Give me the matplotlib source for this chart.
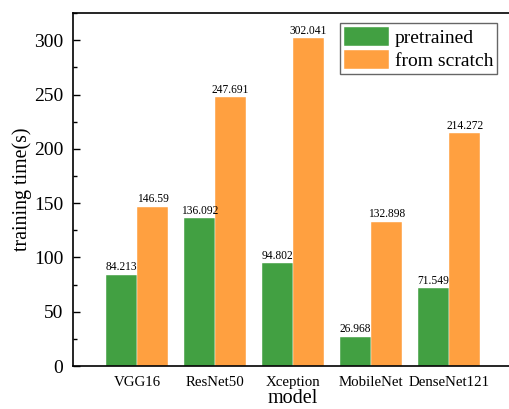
import matplotlib.pyplot as plt
import numpy as np
from matplotlib.ticker import MultipleLocator

plt.rcParams['font.family'] = ['Liberation Serif', 'DejaVu Serif']

models = ['VGG16', 'ResNet50', 'Xception', 'MobileNet', 'DenseNet121']
pretrained = [84.213, 136.092, 94.802, 26.968, 71.549]
scratch = [146.59, 247.691, 302.041, 132.898, 214.272]
pretrained_labels = ['84.213', '136.092', '94.802', '26.968', '71.549']
scratch_labels = ['146.59', '247.691', '302.041', '132.898', '214.272']

fig = plt.figure(figsize=(5.1, 4.09), dpi=100)
ax = fig.add_axes([0.143, 0.105, 0.863, 0.863])

x = np.arange(len(models))
w = 0.4
b1 = ax.bar(x - w / 2, pretrained, w, color='#42a042', edgecolor='white', linewidth=0.3, label='pretrained')
b2 = ax.bar(x + w / 2, scratch, w, color='#ffa040', edgecolor='white', linewidth=0.3, label='from scratch')

ax.bar_label(b1, labels=pretrained_labels, padding=1, fontsize=8.3)
ax.bar_label(b2, labels=scratch_labels, padding=1, fontsize=8.3)

ax.set_xlim(-0.82, 4.82)
ax.set_ylim(0, 325)
ax.set_xticks(x)
ax.set_xticklabels(models, fontsize=10.7)
ax.yaxis.set_major_locator(MultipleLocator(50))
ax.yaxis.set_minor_locator(MultipleLocator(25))
ax.tick_params(axis='y', direction='in', labelsize=14, length=5, width=1, pad=7)
ax.tick_params(axis='y', which='minor', direction='in', length=3, width=1)
ax.tick_params(axis='x', length=0, pad=7)
ax.spines['right'].set_visible(False)
for s in ax.spines.values():
    s.set_linewidth(1.2)

ax.set_xlabel('model', fontsize=14.5, labelpad=0)
ax.set_ylabel('training time(s)', fontsize=14.3, labelpad=1)

leg = ax.legend(loc='upper right', bbox_to_anchor=(0.9636, 0.9717), fontsize=14, fancybox=False,
                edgecolor='#666666', framealpha=1, handlelength=2.3, handleheight=1.15,
                borderpad=0.2, labelspacing=0.12, handletextpad=0.3, borderaxespad=0)
leg.get_frame().set_linewidth(1.0)

fig.savefig('out.png', dpi=100)
